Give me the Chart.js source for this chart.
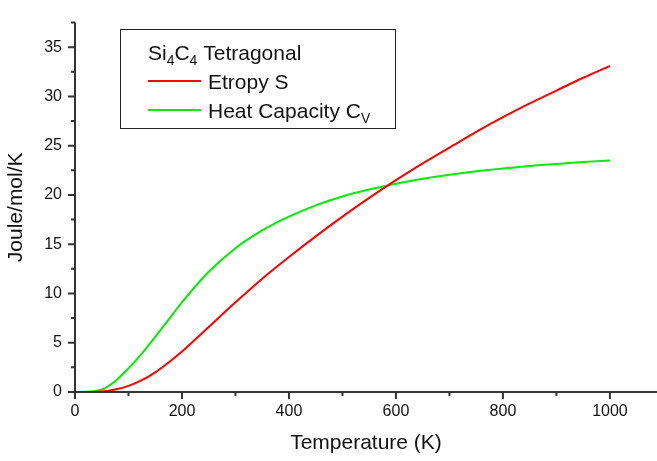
<!DOCTYPE html>
<html>
<head>
<meta charset="utf-8">
<script src="https://cdn.jsdelivr.net/npm/chart.js@4/dist/chart.umd.min.js"></script>
<style>
  html, body { margin: 0; padding: 0; background: #fff; }
  #wrap { width: 657px; height: 461px; position: relative; }
</style>
</head>
<body>
<div id="wrap"><canvas id="grafico"></canvas></div>
<script>
// valores
const temperaturas = [0, 25, 50, 75, 100, 125, 150, 175, 200, 250, 300, 350, 400, 450, 500, 550, 600, 650, 700, 750, 800, 850, 900, 950, 1000];
const entropia = [0, 0, 0.05, 0.25, 0.62, 1.2, 2.0, 3.0, 4.1, 6.6, 9.1, 11.5, 13.7, 15.8, 17.8, 19.7, 21.5, 23.2, 24.8, 26.4, 27.9, 29.3, 30.6, 31.9, 33.1];
const capacidadCalorica = [0, 0.02, 0.25, 1.1, 2.4, 3.9, 5.6, 7.35, 9.1, 12.2, 14.6, 16.4, 17.8, 18.95, 19.85, 20.55, 21.15, 21.65, 22.05, 22.4, 22.7, 22.95, 23.15, 23.35, 23.5];

const ticksX = [0, 200, 400, 600, 800, 1000];
const ticksY = [0, 5, 10, 15, 20, 25, 30, 35];

// texto de la leyenda, en partes: [texto, esSubindice]
const tituloLeyenda = [["Si", false], ["4", true], ["C", false], ["4", true], [" Tetragonal", false]];
const etiquetaEntropia = [["Etropy S", false]];
const etiquetaCapacidad = [["Heat Capacity C", false], ["V", true]];

const fuente = "'Liberation Sans', Arial, sans-serif";
const colorEje = "#333";

function textoPlano(partes) {
  return partes.map(([t]) => t).join("");
}

function dibujarTextoSub(ctx, partes, x, base) {
  partes.forEach(([texto, sub]) => {
    ctx.font = sub ? `14px ${fuente}` : `21px ${fuente}`;
    ctx.fillText(texto, x, sub ? base + 5 : base);
    x += ctx.measureText(texto).width;
  });
}

const pluginEjes = {
  id: "ejesOrigin",
  afterDraw(chart) {
    const { ctx, chartArea, scales: { x, y } } = chart;
    const y0 = y.getPixelForValue(0);
    const x0 = x.getPixelForValue(0);
    ctx.save();
    ctx.strokeStyle = colorEje;
    ctx.lineWidth = 2;
    ctx.beginPath();
    ctx.moveTo(x0, chartArea.top);
    ctx.lineTo(x0, y0 + 1);
    ctx.moveTo(x0 - 1, y0);
    ctx.lineTo(chartArea.right, y0);
    // marcas mayores y menores
    ticksX.forEach((v, i) => {
      const px = x.getPixelForValue(v);
      ctx.moveTo(px, y0); ctx.lineTo(px, y0 + 7);
      if (i < ticksX.length - 1) {
        const pm = x.getPixelForValue((v + ticksX[i + 1]) / 2);
        ctx.moveTo(pm, y0); ctx.lineTo(pm, y0 + 4);
      }
    });
    ticksY.forEach((v, i) => {
      const py = y.getPixelForValue(v);
      ctx.moveTo(x0, py); ctx.lineTo(x0 - 7, py);
      const sig = i < ticksY.length - 1 ? ticksY[i + 1] : v + 5;
      const pm = y.getPixelForValue((v + sig) / 2);
      if (pm >= chartArea.top) { ctx.moveTo(x0, pm); ctx.lineTo(x0 - 4, pm); }
    });
    ctx.stroke();

    // leyenda
    ctx.lineWidth = 1;
    ctx.strokeStyle = "#222";
    ctx.strokeRect(120.5, 29.5, 275, 99);
    ctx.fillStyle = "#111";
    ctx.textBaseline = "alphabetic";
    ctx.textAlign = "left";
    dibujarTextoSub(ctx, tituloLeyenda, 148, 60);
    const filas = [[chart.data.datasets[0], etiquetaEntropia, 89], [chart.data.datasets[1], etiquetaCapacidad, 118]];
    filas.forEach(([ds, partes, base]) => {
      ctx.strokeStyle = ds.borderColor;
      ctx.lineWidth = 2;
      ctx.beginPath();
      ctx.moveTo(148, base - 8);
      ctx.lineTo(201, base - 8);
      ctx.stroke();
      ctx.fillStyle = "#111";
      dibujarTextoSub(ctx, partes, 208, base);
    });
    ctx.restore();
  },
};

new Chart(document.querySelector("#grafico"), {
  type: "line",
  data: {
    datasets: [
      { label: textoPlano(etiquetaEntropia), data: temperaturas.map((t, i) => ({ x: t, y: entropia[i] })), borderColor: "#ff0000", borderWidth: 2, pointRadius: 0, cubicInterpolationMode: "monotone", fill: false },
      { label: textoPlano(etiquetaCapacidad), data: temperaturas.map((t, i) => ({ x: t, y: capacidadCalorica[i] })), borderColor: "#00ee00", borderWidth: 2, pointRadius: 0, cubicInterpolationMode: "monotone", fill: false },
    ],
  },
  options: {
    responsive: true,
    maintainAspectRatio: false,
    animation: false,
    layout: { padding: { top: 9, right: 0, left: 0, bottom: 0 } },
    plugins: { legend: { display: false }, tooltip: { enabled: false } },
    scales: {
      x: {
        type: "linear",
        min: 0,
        max: 1088,
        afterBuildTicks: (escala) => { escala.ticks = ticksX.map((v) => ({ value: v })); },
        afterFit: (escala) => { escala.height = 69; },
        grid: { display: false, drawTicks: false },
        border: { display: false },
        ticks: { padding: 10, color: "#111", font: { family: fuente, size: 16 }, maxRotation: 0, callback: (v) => String(v) },
        title: { display: true, text: "Temperature (K)", color: "#111", font: { family: fuente, size: 21 }, padding: { top: 0, bottom: 5 } },
      },
      y: {
        type: "linear",
        min: 0,
        max: 37.5,
        afterBuildTicks: (escala) => { escala.ticks = ticksY.map((v) => ({ value: v })); },
        afterFit: (escala) => { escala.width = 75; },
        grid: { display: false, drawTicks: false },
        border: { display: false },
        ticks: { padding: 13, color: "#111", font: { family: fuente, size: 16 }, callback: (v) => String(v) },
        title: { display: true, text: "Joule/mol/K", color: "#111", font: { family: fuente, size: 21 }, padding: { top: 4, bottom: 0 } },
      },
    },
  },
  plugins: [pluginEjes],
});
</script>
</body>
</html>
